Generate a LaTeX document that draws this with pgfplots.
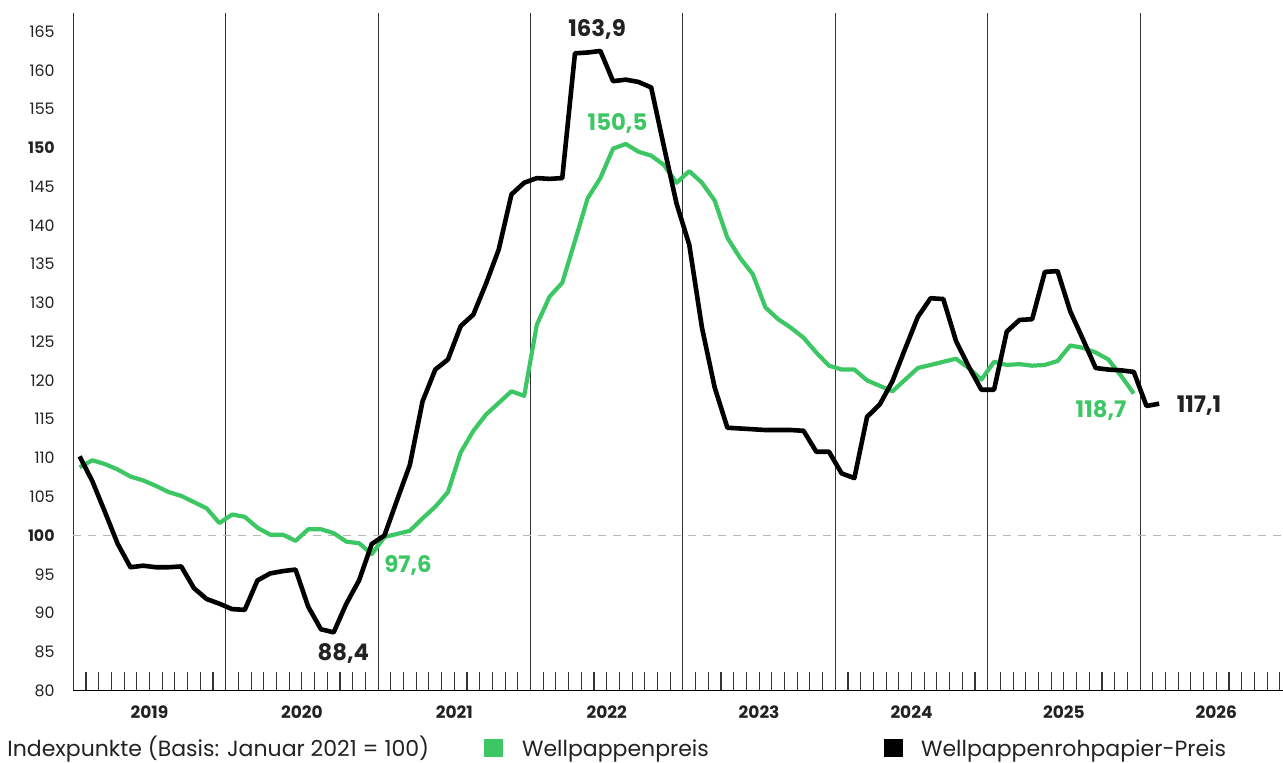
\documentclass[border=0pt]{standalone}
\usepackage{fontspec}
\setmainfont{Poppins}
\usepackage{pgfplots}
\pgfplotsset{compat=1.18}
\definecolor{wgreen}{HTML}{3DC764}
\definecolor{gline}{HTML}{333333}
\definecolor{txt}{HTML}{222222}

\begin{document}
\begin{tikzpicture}
\useasboundingbox (-36.65pt,-36.25pt) rectangle (604.85pt,345.25pt);
\begin{axis}[
  at={(0pt,0pt)}, anchor=south west, scale only axis,
  width=604.85pt, height=338.75pt,
  xmin=0, xmax=95.25, ymin=80, ymax=167.4,
  axis x line*=bottom, axis y line*=left,
  every outer x axis line/.append style={-},
  every outer y axis line/.append style={-},
  x axis line style={-, black, line width=0.9pt},
  y axis line style={-, gline, line width=0.55pt},
  xtick={0,12,...,84}, xticklabels={},
  minor xtick={1,...,95},
  tick align=inside,
  major tick length=9pt, minor tick length=9pt,
  x tick style={gline, line width=0.55pt},
  xmajorgrids, x grid style={gline, line width=0.55pt},
  ytick={80,85,...,165},
  yticklabels={80,85,90,95,\textbf{100},105,110,115,120,125,130,135,140,145,\textbf{150},155,160,165},
  y tick style={draw=none},
  yticklabel style={anchor=east, inner sep=0pt, xshift=-9.15pt, font=\fontsize{7.9}{9}\selectfont, text=txt},
  /pgf/number format/assume math mode=true,
  clip=false,
]
\addplot[draw=black!28, dash pattern=on 4pt off 3.5pt, line width=0.7pt, forget plot] coordinates {(0,100) (95.25,100)};

% Wellpappenpreis (green)
\addplot[wgreen, line width=2.1pt, line join=round] coordinates {
(0.5,108.8) (1.5,109.7) (2.5,109.2) (3.5,108.5) (4.5,107.6) (5.5,107.1) (6.5,106.4) (7.5,105.6) (8.5,105.1) (9.5,104.3) (10.5,103.5) (11.5,101.6)
(12.5,102.7) (13.5,102.4) (14.5,101.0) (15.5,100.1) (16.5,100.1) (17.5,99.3) (18.5,100.8) (19.5,100.8) (20.5,100.3) (21.5,99.2) (22.5,99.0) (23.5,97.6)
(24.5,99.8) (25.5,100.2) (26.5,100.6) (27.5,102.2) (28.5,103.7) (29.5,105.6) (30.5,110.7) (31.5,113.5) (32.5,115.6) (33.5,117.1) (34.5,118.6) (35.5,118.0)
(36.5,127.2) (37.5,130.8) (38.5,132.6) (39.5,138.0) (40.5,143.5) (41.5,146.1) (42.5,149.9) (43.5,150.5) (44.5,149.5) (45.5,149.0) (46.5,147.8) (47.5,145.5)
(48.5,147.0) (49.5,145.5) (50.5,143.2) (51.5,138.4) (52.5,135.8) (53.5,133.7) (54.5,129.4) (55.5,127.9) (56.5,126.8) (57.5,125.5) (58.5,123.6) (59.5,121.9)
(60.5,121.4) (61.5,121.4) (62.5,120.0) (63.5,119.3) (64.5,118.6) (65.5,120.1) (66.5,121.6) (67.5,122.0) (68.5,122.4) (69.5,122.8) (70.5,121.6) (71.5,120.1)
(72.5,122.4) (73.5,122.0) (74.5,122.1) (75.5,121.9) (76.5,122.0) (77.5,122.5) (78.5,124.5) (79.5,124.2) (80.5,123.6) (81.5,122.7) (82.5,120.6) (83.5,118.3)
};

% Wellpappenrohpapier-Preis (black)
\addplot[black, line width=2.3pt, line join=round] coordinates {
(0.5,110.2) (1.5,107.0) (2.5,103.0) (3.5,98.9) (4.5,95.9) (5.5,96.1) (6.5,95.9) (7.5,95.9) (8.5,96.0) (9.5,93.2) (10.5,91.8) (11.5,91.2)
(12.5,90.5) (13.5,90.4) (14.5,94.2) (15.5,95.1) (16.5,95.4) (17.5,95.6) (18.5,90.8) (19.5,87.9) (20.5,87.5) (21.5,91.2) (22.5,94.2) (23.5,98.9)
(24.5,100.0) (25.5,104.6) (26.5,109.1) (27.5,117.3) (28.5,121.4) (29.5,122.7) (30.5,127.0) (31.5,128.5) (32.5,132.5) (33.5,136.9) (34.5,144.0) (35.5,145.5)
(36.5,146.1) (37.5,146.0) (38.5,146.1) (39.5,162.2) (40.5,162.3) (41.5,162.5) (42.5,158.6) (43.5,158.8) (44.5,158.5) (45.5,157.8) (46.5,150.2) (47.5,142.8)
(48.5,137.5) (49.5,126.8) (50.5,119.1) (51.5,113.9) (52.5,113.8) (53.5,113.7) (54.5,113.6) (55.5,113.6) (56.5,113.6) (57.5,113.5) (58.5,110.8) (59.5,110.8)
(60.5,108.0) (61.5,107.4) (62.5,115.3) (63.5,116.9) (64.5,119.9) (65.5,124.1) (66.5,128.2) (67.5,130.6) (68.5,130.5) (69.5,125.1) (70.5,121.8) (71.5,118.8)
(72.5,118.8) (73.5,126.3) (74.5,127.8) (75.5,127.9) (76.5,134.0) (77.5,134.1) (78.5,128.9) (79.5,125.3) (80.5,121.6) (81.5,121.4) (82.5,121.3) (83.5,121.1)
(84.5,116.7) (85.5,117.0)
};

\node[anchor=base, inner sep=0pt, font=\bfseries\fontsize{11.4}{12}\selectfont, text=txt] at (axis cs:41.24,164.41) {163,9};
\node[anchor=base, inner sep=0pt, font=\bfseries\fontsize{11.4}{12}\selectfont, text=wgreen] at (axis cs:42.85,152.29) {150,5};
\node[anchor=base, inner sep=0pt, font=\bfseries\fontsize{11.4}{12}\selectfont, text=txt] at (axis cs:21.26,83.93) {88,4};
\node[anchor=base, inner sep=0pt, font=\bfseries\fontsize{11.4}{12}\selectfont, text=wgreen] at (axis cs:26.35,95.19) {97,6};
\node[anchor=base, inner sep=0pt, font=\bfseries\fontsize{11.4}{12}\selectfont, text=wgreen] at (axis cs:80.92,115.27) {118,7};
\node[anchor=base, inner sep=0pt, font=\bfseries\fontsize{11.4}{12}\selectfont, text=txt] at (axis cs:88.64,115.88) {117,1};
\end{axis}

\foreach \yr [count=\i from 0] in {2019,2020,2021,2022,2023,2024,2025,2026}
  \node[anchor=base, inner sep=0pt, font=\bfseries\fontsize{8.5}{10}\selectfont, text=txt] at ({(6+12*\i)*6.35pt},-13.9pt) {\yr};

\node[anchor=base west, inner sep=0pt, font=\fontsize{11}{12}\selectfont, text=txt] at (-33.15pt,-33.1pt) {Indexpunkte (Basis: Januar 2021 = 100)};
\fill[wgreen] (205.35pt,-33.1pt) rectangle (214.7pt,-24.45pt);
\node[anchor=base west, inner sep=0pt, font=\fontsize{11}{12}\selectfont, text=txt] at (224.2pt,-33.1pt) {Wellpappenpreis};
\fill[black] (405.35pt,-33.1pt) rectangle (414.7pt,-24.45pt);
\node[anchor=base west, inner sep=0pt, font=\fontsize{11}{12}\selectfont, text=txt] at (423.7pt,-33.1pt) {Wellpappenrohpapier-Preis};
\end{tikzpicture}
\end{document}
